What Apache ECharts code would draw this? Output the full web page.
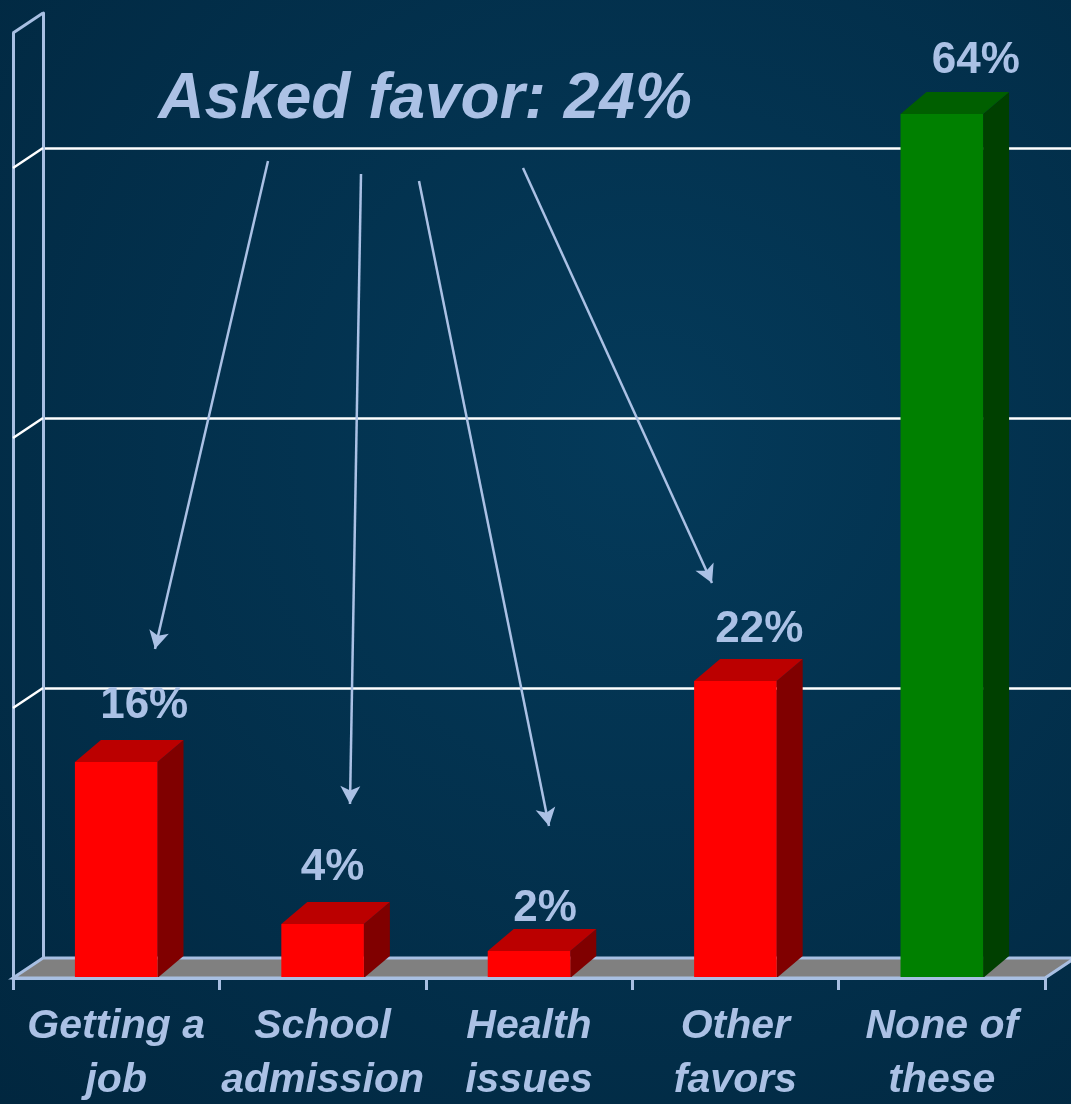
<!DOCTYPE html>
<html>
<head>
<meta charset="utf-8">
<script src="https://cdn.jsdelivr.net/npm/echarts@6/dist/echarts.min.js"></script>
<style>
    html, body { margin: 0; padding: 0; background: #012b43; }
    #chart { width: 1071px; height: 1104px; }
</style>
</head>
<body>
<div id="chart"></div>
<script>
    // data
    var categories = ['Getting a\njob', 'School\nadmission', 'Health\nissues', 'Other\nfavors', 'None of\nthese'];
    var percents = [16, 4, 2, 22, 64];
    var barKinds = ['favor', 'favor', 'favor', 'favor', 'none'];
    var yMin = 0, yMax = 70, yStep = 20;
    var headline = 'Asked favor: 24%';

    // layout / styles
    var LIGHT = '#abc1e5';
    var LINE = '#a8bfe2';
    var FRONT = { left: 13, top: 33, width: 1032, height: 945 };
    var WALL_DX = 30, WALL_DY = -20;
    var BAR_DX = 26, BAR_DY = -22;
    // value label offsets from the bar's front centre / back top edge
    var LABEL_DX = [28, 10, 16, 24, 34];
    var LABEL_DY = [34, 34, 20, 29, 31];
    var FONT = '"Liberation Sans", Arial, sans-serif';
    var COLORS = {
        favor: { front: '#ff0000', top: '#bb0000', side: '#800000' },
        none:  { front: '#008000', top: '#005f00', side: '#004000' }
    };
    // annotation arrows, pixel positions [from, to]
    var ARROWS = [
        [[268, 161], [155, 649]],
        [[361, 174], [350, 804]],
        [[419, 181], [549, 826]],
        [[523, 168], [712, 583]]
    ];

    var chart = echarts.init(document.getElementById('chart'));

    function renderBar(params, api) {
        var i = params.dataIndex;
        var x = api.value(0), v = api.value(1);
        var base = api.coord([x, 0]);
        var top = api.coord([x, v]);
        var w = api.size([1, 0])[0] * 0.4;
        var x0 = base[0] - w / 2, x1 = base[0] + w / 2;
        var yb = base[1], yt = top[1];
        var c = COLORS[barKinds[i]];
        return {
            type: 'group',
            children: [
                { type: 'polygon', shape: { points: [[x1, yt], [x1 + BAR_DX, yt + BAR_DY], [x1 + BAR_DX, yb + BAR_DY], [x1, yb]] }, style: { fill: c.side } },
                { type: 'polygon', shape: { points: [[x0, yt], [x0 + BAR_DX, yt + BAR_DY], [x1 + BAR_DX, yt + BAR_DY], [x1, yt]] }, style: { fill: c.top } },
                { type: 'rect', shape: { x: x0, y: yt, width: w, height: yb - yt }, style: { fill: c.front } },
                {
                    type: 'text', x: base[0] + LABEL_DX[i], y: yt + BAR_DY - LABEL_DY[i],
                    style: {
                        text: v + '%', fill: LIGHT, font: 'bold 44px ' + FONT,
                        align: 'center', verticalAlign: 'middle', textAlign: 'center', textVerticalAlign: 'middle'
                    }
                }
            ]
        };
    }

    chart.setOption({
        animation: false,
        backgroundColor: {
            type: 'radial', x: 0.6, y: 0.4, r: 0.9,
            colorStops: [{ offset: 0, color: '#043a5a' }, { offset: 1, color: '#01263e' }]
        },
        grid: [
            { left: FRONT.left, top: FRONT.top, width: FRONT.width, height: FRONT.height, outerBoundsMode: 'none' },
            { left: FRONT.left + WALL_DX, top: FRONT.top + WALL_DY, width: FRONT.width, height: FRONT.height, outerBoundsMode: 'none' }
        ],
        xAxis: [
            {
                gridIndex: 0, type: 'category', data: categories, z: 5,
                axisLine: { lineStyle: { color: LINE, width: 3 } },
                axisTick: { show: true, length: 12, lineStyle: { color: LINE, width: 3 } },
                axisLabel: {
                    interval: 0, margin: 22, color: LIGHT, fontFamily: FONT,
                    fontSize: 41, fontWeight: 'bold', fontStyle: 'italic', lineHeight: 54
                },
                splitLine: { show: false }
            },
            {
                gridIndex: 1, type: 'category', data: categories, position: 'top',
                axisLine: { lineStyle: { color: LINE, width: 3 } },
                axisTick: { show: false }, axisLabel: { show: false }, splitLine: { show: false }
            }
        ],
        yAxis: [
            {
                gridIndex: 0, type: 'value', min: yMin, max: yMax, interval: yStep,
                axisLine: { show: true, lineStyle: { color: LINE, width: 3 } },
                axisTick: { show: false }, axisLabel: { show: false }, splitLine: { show: false }
            },
            {
                gridIndex: 1, type: 'value', min: yMin, max: yMax, interval: yStep,
                axisLine: { show: true, lineStyle: { color: LINE, width: 3 } },
                axisTick: { show: false }, axisLabel: { show: false },
                splitLine: { show: true, showMinLine: false, showMaxLine: false, lineStyle: { color: '#ffffff', width: 2.5 } }
            }
        ],
        series: [{
            type: 'custom',
            xAxisIndex: 0, yAxisIndex: 0, z: 3,
            renderItem: renderBar,
            data: percents.map(function (v, i) { return [i, v]; }),
            markLine: {
                silent: true,
                symbol: ['none', 'arrow'],
                symbolSize: [15, 18],
                label: { show: false },
                lineStyle: { color: LIGHT, width: 2.5, type: 'solid' },
                data: ARROWS.map(function (a) {
                    return [{ x: a[0][0], y: a[0][1] }, { x: a[1][0], y: a[1][1] }];
                })
            }
        }]
    });

    // walls, floor and headline
    var L = FRONT.left, R = FRONT.left + FRONT.width;
    var yBase = chart.convertToPixel({ gridIndex: 0 }, [0, yMin])[1];
    var yTopFront = chart.convertToPixel({ gridIndex: 0 }, [0, yMax])[1];
    var deco = [];
    deco.push({
        type: 'polygon', z: 1,
        shape: { points: [[L, yBase], [R, yBase], [R + WALL_DX, yBase + WALL_DY], [L + WALL_DX, yBase + WALL_DY]] },
        style: { fill: '#808080', stroke: LINE, lineWidth: 3 }
    });
    deco.push({
        type: 'line', z: 1,
        shape: { x1: L, y1: yTopFront, x2: L + WALL_DX, y2: yTopFront + WALL_DY },
        style: { stroke: LINE, lineWidth: 3 }
    });
    for (var v = yMin + yStep; v < yMax; v += yStep) {
        var yy = chart.convertToPixel({ gridIndex: 0 }, [0, v])[1];
        deco.push({
            type: 'line', z: 1,
            shape: { x1: L, y1: yy, x2: L + WALL_DX, y2: yy + WALL_DY },
            style: { stroke: '#ffffff', lineWidth: 2.5 }
        });
    }
    deco.push({
        type: 'text', z: 6, x: 425, y: 100,
        style: {
            text: headline, fill: LIGHT, font: 'italic bold 64px ' + FONT,
            align: 'center', verticalAlign: 'middle', textAlign: 'center', textVerticalAlign: 'middle'
        }
    });
    chart.setOption({ graphic: deco });
</script>
</body>
</html>
